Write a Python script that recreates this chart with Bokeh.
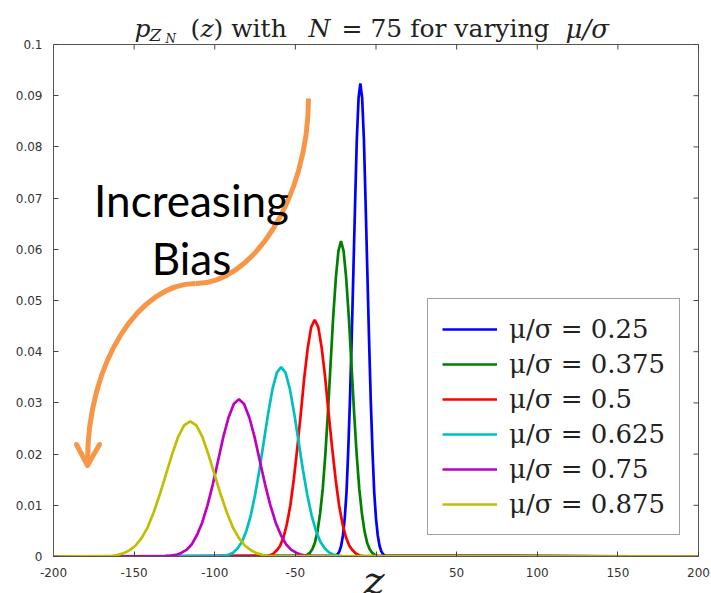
from bokeh.plotting import figure
from bokeh.models import Range1d, FixedTicker, Label, Legend, LegendItem, Title
from bokeh.embed import file_html
from bokeh.resources import INLINE

# ---------------- data ----------------
ratios = ["0.25", "0.375", "0.5", "0.625", "0.75", "0.875"]

z_025 = [-200, -24.8, -23.7, -22.7, -21.6, -20.5, -19.4, -18.3, -17.3, -16.2, -15.1, -14.0, -12.9, -11.9, -10.8,
         -9.7, -8.6, -7.5, -6.5, -5.4, -4.3, -3.2, -2.1, -1.1, 0.0, 1.1, 2.2, 3.3, 4.3, 5.4, 200]
p_025 = [0, 0.0002, 0.0005, 0.0010, 0.0021, 0.0041, 0.0074, 0.0125, 0.0200, 0.0300, 0.0423, 0.0560, 0.0697, 0.0815, 0.0896,
         0.0924, 0.0896, 0.0815, 0.0697, 0.0560, 0.0423, 0.0300, 0.0200, 0.0125, 0.0074, 0.0041, 0.0021, 0.0010, 0.0005, 0.0002, 0]

z_0375 = [-200, -44.4, -42.8, -41.1, -39.5, -37.9, -36.3, -34.7, -33.0, -31.4, -29.8, -28.2, -26.6, -24.9, -23.3,
          -21.7, -20.1, -18.5, -16.8, -15.2, -13.6, -12.0, -10.4, -8.7, -7.1, -5.5, -3.9, -2.3, -0.6, 1.0, 200]
p_0375 = [0, 0.0001, 0.0003, 0.0007, 0.0014, 0.0027, 0.0049, 0.0083, 0.0133, 0.0200, 0.0282, 0.0374, 0.0465, 0.0544, 0.0597,
          0.0616, 0.0597, 0.0544, 0.0465, 0.0374, 0.0282, 0.0200, 0.0133, 0.0083, 0.0049, 0.0027, 0.0014, 0.0007, 0.0003, 0.0001, 0]

z_05 = [-200, -68.2, -66.1, -63.9, -61.8, -59.6, -57.4, -55.3, -53.1, -51.0, -48.8, -46.6, -44.5, -42.3, -40.2,
        -38.0, -35.8, -33.7, -31.5, -29.4, -27.2, -25.0, -22.9, -20.7, -18.6, -16.4, -14.2, -12.1, -9.9, -7.8, 200]
p_05 = [0, 0.0001, 0.0002, 0.0005, 0.0011, 0.0020, 0.0037, 0.0063, 0.0100, 0.0150, 0.0212, 0.0280, 0.0349, 0.0408, 0.0448,
        0.0462, 0.0448, 0.0408, 0.0349, 0.0280, 0.0212, 0.0150, 0.0100, 0.0063, 0.0037, 0.0020, 0.0011, 0.0005, 0.0002, 0.0001, 0]

z_0625 = [-200, -96.5, -93.8, -91.1, -88.4, -85.8, -83.1, -80.4, -77.7, -75.0, -72.3, -69.6, -66.9, -64.2, -61.5,
          -58.8, -56.1, -53.4, -50.7, -48.0, -45.3, -42.6, -39.9, -37.2, -34.5, -31.8, -29.1, -26.5, -23.8, -21.1, 200]
p_0625 = [0, 0.0001, 0.0002, 0.0004, 0.0008, 0.0016, 0.0029, 0.0050, 0.0080, 0.0120, 0.0169, 0.0224, 0.0279, 0.0327, 0.0359,
          0.0370, 0.0359, 0.0327, 0.0279, 0.0224, 0.0169, 0.0120, 0.0080, 0.0050, 0.0029, 0.0016, 0.0008, 0.0004, 0.0002, 0.0001, 0]

z_075 = [-200, -130.5, -127.2, -124.0, -120.8, -117.5, -114.2, -111.0, -107.8, -104.5, -101.2, -98.0, -94.8, -91.5, -88.2,
         -85.0, -81.8, -78.5, -75.2, -72.0, -68.8, -65.5, -62.2, -59.0, -55.8, -52.5, -49.2, -46.0, -42.8, -39.5, 200]
p_075 = [0, 0.0001, 0.0002, 0.0003, 0.0007, 0.0013, 0.0024, 0.0042, 0.0066, 0.0100, 0.0141, 0.0186, 0.0232, 0.0271, 0.0298,
         0.0307, 0.0298, 0.0271, 0.0232, 0.0186, 0.0141, 0.0100, 0.0066, 0.0042, 0.0024, 0.0013, 0.0007, 0.0003, 0.0002, 0.0001, 0]

z_0875 = [-200, -168.1, -164.3, -160.5, -156.8, -153.0, -149.2, -145.4, -141.6, -137.9, -134.1, -130.3, -126.5, -122.8, -119.0,
          -115.2, -111.4, -107.6, -103.9, -100.1, -96.3, -92.5, -88.8, -85.0, -81.2, -77.4, -73.6, -69.9, -66.1, -62.3, 200]
p_0875 = [0, 0.0001, 0.0001, 0.0003, 0.0006, 0.0012, 0.0021, 0.0036, 0.0057, 0.0086, 0.0121, 0.0160, 0.0199, 0.0233, 0.0256,
          0.0264, 0.0256, 0.0233, 0.0199, 0.0160, 0.0121, 0.0086, 0.0057, 0.0036, 0.0021, 0.0012, 0.0006, 0.0003, 0.0001, 0.0001, 0]

x_ticks = [-200, -150, -100, -50, 0, 50, 100, 150, 200]
x_tick_labels = ["-200", "-150", "-100", "-50", "", "50", "100", "150", "200"]
y_ticks = [0, 0.01, 0.02, 0.03, 0.04, 0.05, 0.06, 0.07, 0.08, 0.09, 0.1]
y_tick_labels = ["0", "0.01", "0.02", "0.03", "0.04", "0.05", "0.06", "0.07", "0.08", "0.09", "0.1"]

# ---------------- layout / style ----------------
W, H = 711, 593
L, B = 53, 37            # left / bottom borders (axes)
AX_TOP, AX_RIGHT = 44, 698   # pixel position of the y=0.1 and x=200 edges of the box
colors = ["#0000ff", "#008000", "#ff0000", "#00bfbf", "#bf00bf", "#bfbf00"]
frame_gray = "#555555"
orange = "#F79646"

fw = W - L
fh = H - B
px_per_x = (AX_RIGHT - L) / 400.0
px_per_y = (fh - AX_TOP) / 0.1
x_max = -200 + fw / px_per_x
y_max = fh / px_per_y

p = figure(width=W, height=H, output_backend="svg", toolbar_location=None,
           x_range=Range1d(-200, x_max), y_range=Range1d(0, y_max),
           min_border_left=L, min_border_right=0, min_border_top=0, min_border_bottom=B)
p.background_fill_color = "white"
p.border_fill_color = "white"
p.outline_line_color = None
p.xgrid.visible = False
p.ygrid.visible = False

def zx(px):
    return (px - L) / px_per_x - 200
def zy(py):
    return (fh - py) / px_per_y

for ax, ticks, labels, bnds in [(p.xaxis[0], x_ticks, x_tick_labels, (-200, 200)),
                                (p.yaxis[0], y_ticks, y_tick_labels, (0, 0.1))]:
    ax.ticker = FixedTicker(ticks=ticks)
    ax.bounds = bnds
    ax.major_label_overrides = {t: l for t, l in zip(ticks, labels)}
    ax.major_tick_in = 5
    ax.major_tick_out = 0
    ax.minor_tick_line_color = None
    ax.axis_line_color = frame_gray
    ax.major_tick_line_color = "#444444"
    ax.major_label_text_font = "DejaVu Sans"
    ax.major_label_text_font_size = "12px"
    ax.major_label_text_color = "#333333"
    ax.major_label_standoff = 11

# top and right edges of the box, with mirrored tick marks
p.segment(x0=[-200, 200], y0=[0.1, 0], x1=[200, 200], y1=[0.1, 0.1], line_color=frame_gray, line_width=1)
tick_dy = 5 / px_per_y
tick_dx = 5 / px_per_x
p.segment(x0=x_ticks, y0=[0.1] * len(x_ticks), x1=x_ticks, y1=[0.1 - tick_dy] * len(x_ticks),
          line_color="#444444", line_width=1)
p.segment(x0=[200] * len(y_ticks), y0=y_ticks, x1=[200 - tick_dx] * len(y_ticks), y1=y_ticks,
          line_color="#444444", line_width=1)

series = [(z_025, p_025), (z_0375, p_0375), (z_05, p_05), (z_0625, p_0625), (z_075, p_075), (z_0875, p_0875)]
items = []
for (zz, pp), c, r in zip(series, colors, ratios):
    gl = p.line(zz, pp, line_color=c, line_width=2.7)
    items.append(LegendItem(label="μ/σ = " + r, renderers=[gl]))

legend = Legend(items=items, location=(374, 21))
legend.label_text_font = "DejaVu Serif"
legend.label_text_font_size = "26px"
legend.label_text_color = "#222222"
legend.glyph_width = 55
legend.glyph_height = 32
legend.label_height = 32
legend.spacing = 3
legend.padding = 14
legend.label_standoff = 12
legend.border_line_color = "#444444"
legend.border_line_width = 1.5
legend.background_fill_alpha = 1.0
p.add_layout(legend, "center")

# orange arrow annotation
p.bezier(x0=[zx(308), zx(195)], y0=[zy(98), zy(283)],
         x1=[zx(195), zx(87)], y1=[zy(283), zy(462)],
         cx0=[zx(308), zx(140)], cy0=[zy(200), zy(283)],
         cx1=[zx(250), zx(87)], cy1=[zy(284), zy(360)],
         line_color=orange, line_width=5)
p.line([zx(76), zx(87), zx(99)], [zy(444), zy(465), zy(444)], line_color=orange,
       line_width=5, line_cap="round", line_join="round")

# text placed by its vertical middle: middle = baseline - k * font size
K_LATO, K_DJV = 0.387, 0.346
for txt, py in [("Increasing", 217), ("Bias", 275)]:
    p.add_layout(Label(x=zx(191), y=zy(py - K_LATO * 44), text=txt, text_font="Lato",
                       text_font_size="44px", text_color="black", text_align="center",
                       text_baseline="middle"))

# title pieces: (text, left px, baseline px, font px, style)
title_parts = [
    ("p", 134, 37, 25, "italic"),
    ("Z", 149, 40, 17, "italic"),
    ("N", 165, 43, 12, "italic"),
    ("(", 190, 37, 25, "normal"),
    ("z", 200, 37, 25, "italic"),
    (") with", 213, 37, 25, "normal"),
    ("N", 308, 37, 25, "italic"),
    ("= 75 for varying", 341, 37, 25, "normal"),
    ("μ/σ", 565, 37, 26, "italic"),
]
for txt, px, py, fs, st in title_parts:
    p.add_layout(Label(x=zx(px), y=zy(py - K_DJV * fs), text=txt, text_font="DejaVu Serif",
                       text_font_size=f"{fs}px", text_font_style=st, text_color="#222222",
                       text_align="left", text_baseline="middle"))

# x-axis variable, centred just above the bottom edge of the picture
z_fs = 40
zt = Title(text="z", align="left", offset=310, standoff=-19 - 2 - round(z_fs * 1.164),
           vertical_align="middle", text_font="DejaVu Serif", text_font_size=f"{z_fs}px",
           text_font_style="italic", text_color="#222222")
p.add_layout(zt, "below")

open("out.html", "w").write(file_html(p, INLINE))
